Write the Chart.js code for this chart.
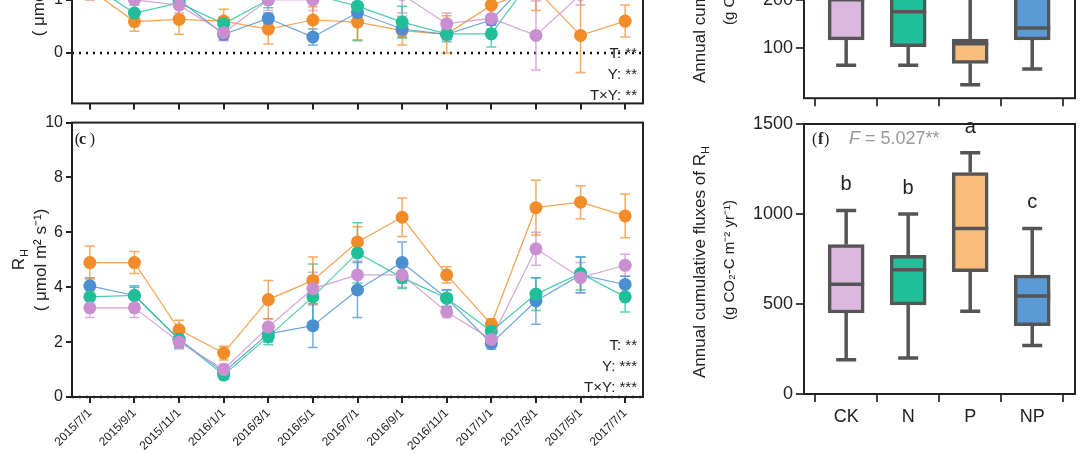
<!DOCTYPE html>
<html><head><meta charset="utf-8">
<script src="https://cdn.jsdelivr.net/npm/chart.js@4/dist/chart.umd.min.js"></script>
<style>
body{margin:0;width:1080px;height:459px;overflow:hidden;background:#fff;position:relative}
.c{position:absolute}
</style></head><body>
<canvas id="b" class="c"></canvas>
<canvas id="cc" class="c"></canvas>
<canvas id="e" class="c"></canvas>
<canvas id="f" class="c"></canvas>
<script>
// dates
const dates = ['2015/7/1','2015/9/1','2015/11/1','2016/1/1','2016/3/1','2016/5/1','2016/7/1','2016/9/1','2016/11/1','2017/1/1','2017/3/1','2017/5/1','2017/7/1'];
const seriesNames = ['CK','N','P','NP'];
const seriesColors = ['#c98fd0','#1fbf9a','#f28c28','#4a90d0'];
const boxFills = ['#dcb8e0','#1fbf9a','#f9bd7a','#5b9bd5'];

// panel (b), partly visible
const bCK = [1.2,1.0,0.9,0.38,1.0,1.0,1.2,1.1,0.55,0.65,0.33,1.1,1.3];
const bN  = [1.3,0.75,0.94,0.55,1.0,1.1,0.88,0.58,0.36,0.36,1.5,1.6,1.5];
const bP  = [1.2,0.59,0.63,0.6,0.45,0.62,0.58,0.42,0.35,0.9,1.2,0.33,0.6];
const bNP = [1.3,1.1,1.0,0.35,0.65,0.3,0.76,0.45,0.35,0.62,1.5,1.6,1.5];
const bErrCK = [0.2,0.2,0.15,0.15,0.2,0.2,0.25,0.35,0.2,0.2,0.65,0.2,0.2];
const bErrN  = [0.2,0.15,0.1,0.1,0.15,0.15,0.65,0.3,0.15,0.25,0.2,0.2,0.2];
const bErrP  = [0.2,0.18,0.28,0.22,0.28,0.25,0.33,0.27,0.35,0.3,0.4,0.7,0.3];
const bErrNP = [0.15,0.1,0.1,0.1,0.1,0.15,0.1,0.15,0.1,0.1,0.2,0.2,0.2];

// panel (c) R_H
const cCK = [3.25,3.25,2.0,1.0,2.55,3.95,4.45,4.45,3.1,2.1,5.4,4.35,4.8];
const cN  = [3.65,3.7,2.1,0.8,2.2,3.65,5.25,4.35,3.6,2.4,3.75,4.5,3.65];
const cP  = [4.9,4.9,2.45,1.6,3.55,4.25,5.65,6.55,4.45,2.65,6.9,7.1,6.6];
const cNP = [4.05,3.7,2.1,0.9,2.3,2.6,3.9,4.9,3.6,1.95,3.5,4.45,4.1];
const cErrCK = [0.35,0.35,0.25,0.2,0.3,0.6,0.5,0.45,0.2,0.25,0.6,0.55,0.4];
const cErrN  = [0.3,0.35,0.3,0.15,0.3,1.2,1.1,0.4,0.3,0.3,0.6,0.6,0.55];
const cErrP  = [0.6,0.4,0.35,0.25,0.7,0.85,0.55,0.7,0.3,0.2,1.0,0.6,0.8];
const cErrNP = [0.3,0.3,0.3,0.15,0.3,0.8,1.0,0.75,0.3,0.2,0.85,0.65,0.3];

// panel (e) annual cumulative (partly visible): [min, q1, median, q3, max]
const eBoxes = [[63,116,200,240,300],[63,102,175,230,290],[22,67,108,118,260],[55,116,141,230,300]];
// panel (f) annual cumulative R_H
const fBoxes = [[190,450,610,830,1020],[200,495,690,770,1000],[460,680,920,1230,1340],[270,380,545,660,920]];
const fLetters = ['b','b','a','c'];

const FONT = '"Liberation Sans", Arial, sans-serif';
const INK = '#222';

function place(id, left, top, w, h) {
  const cv = document.getElementById(id);
  cv.style.left = left + 'px'; cv.style.top = top + 'px';
  cv.style.width = w + 'px'; cv.style.height = h + 'px';
  cv.width = w; cv.height = h;
  return cv;
}

const frame = {
  id: 'frame',
  afterDraw(chart) {
    const a = chart.chartArea, ctx = chart.ctx;
    ctx.save(); ctx.strokeStyle = '#222'; ctx.lineWidth = 2;
    ctx.strokeRect(a.left, a.top, a.right - a.left, a.bottom - a.top);
    ctx.restore();
  }
};

function zeroLine(chart) {
  const ctx = chart.ctx, a = chart.chartArea, y = chart.scales.y.getPixelForValue(0);
  ctx.save(); ctx.strokeStyle = '#111'; ctx.lineWidth = 2.5; ctx.setLineDash([2, 5]);
  ctx.beginPath(); ctx.moveTo(a.left, y); ctx.lineTo(a.right, y); ctx.stroke(); ctx.restore();
}

const errBars = {
  id: 'errBars',
  beforeDatasetsDraw(chart) {
    const ctx = chart.ctx, xs = chart.scales.x, ys = chart.scales.y;
    zeroLine(chart);
    chart.data.datasets.forEach(ds => {
      ctx.save(); ctx.strokeStyle = ds.errColor; ctx.lineWidth = 1.5;
      ds.data.forEach((p, i) => {
        const e = ds.err[i], x = xs.getPixelForValue(p.x);
        const y1 = ys.getPixelForValue(p.y - e), y2 = ys.getPixelForValue(p.y + e);
        ctx.beginPath();
        ctx.moveTo(x, y1); ctx.lineTo(x, y2);
        ctx.moveTo(x - 5, y1); ctx.lineTo(x + 5, y1);
        ctx.moveTo(x - 5, y2); ctx.lineTo(x + 5, y2);
        ctx.stroke();
      });
      ctx.restore();
    });
  }
};

function lineSets(vals, errs) {
  const order = [0, 1, 3, 2];
  return order.map(k => ({
    label: seriesNames[k],
    data: vals[k].map((v, i) => ({ x: i, y: v })),
    err: errs[k],
    errColor: seriesColors[k] + 'bb',
    borderColor: seriesColors[k] + 'cc',
    borderWidth: 1.2,
    backgroundColor: seriesColors[k],
    pointBackgroundColor: seriesColors[k],
    pointBorderWidth: 0,
    pointRadius: 6.5,
    tension: 0
  }));
}

function textPlugin(fn) { return { id: 'txt' + Math.random(), afterDraw(chart) { const ctx = chart.ctx; ctx.save(); fn(ctx, chart); ctx.restore(); } }; }

function stats(ctx, a, lines, y0) {
  ctx.fillStyle = INK; ctx.font = '15px ' + FONT; ctx.textAlign = 'right';
  lines.forEach((t, i) => ctx.fillText(t, a.right - 6, y0 + i * 21));
}

function lineConfig(vals, errs, ymin, ymax, step, xH, showX, yW, padTop, extra) {
  return {
    type: 'line',
    data: { datasets: lineSets(vals, errs) },
    options: {
      responsive: false, animation: false,
      layout: { padding: { top: padTop, right: 17, left: 0, bottom: 0 } },
      plugins: { legend: { display: false }, tooltip: { enabled: false } },
      scales: {
        x: {
          type: 'linear', min: -0.4, max: 12.4,
          afterFit(s) { s.height = xH; },
          grid: { drawOnChartArea: false, tickLength: 6, color: '#222', lineWidth: 2 },
          border: { display: false },
          afterBuildTicks(s) { s.ticks = dates.map((d, i) => ({ value: i })); },
          ticks: { display: showX, autoSkip: false, maxRotation: 45, minRotation: 45, color: INK,
            font: { size: 12, family: FONT }, callback: v => dates[v] }
        },
        y: {
          min: ymin, max: ymax,
          afterFit(s) { s.width = yW; },
          afterBuildTicks(s) { s.ticks = s.ticks.filter(t => Math.abs(t.value / step - Math.round(t.value / step)) < 1e-6); },
          grid: { drawOnChartArea: false, tickLength: 6, color: '#222', lineWidth: 2 },
          border: { display: false },
          ticks: { stepSize: step, color: INK, font: { size: 16, family: FONT } }
        }
      }
    },
    plugins: [errBars, frame, textPlugin(extra)]
  };
}

// (b)
new Chart(place('b', 0, -110, 660, 226), lineConfig([bCK, bN, bP, bNP], [bErrCK, bErrN, bErrP, bErrNP],
  -0.95, 2.83, 1, 8, false, 72, 10, (ctx, ch) => {
    const a = ch.chartArea;
    stats(ctx, a, ['T: **', 'Y: **', 'T×Y: **'], a.bottom - 45);
    ctx.fillStyle = INK; ctx.font = '17px ' + FONT; ctx.textAlign = 'center';
    ctx.translate(44, 95); ctx.rotate(-Math.PI / 2);
    ctx.fillText('( μmol m² s⁻¹)', 0, 0);
  }));

// (c)
new Chart(place('cc', 0, 110, 660, 349), lineConfig([cCK, cN, cP, cNP], [cErrCK, cErrN, cErrP, cErrNP],
  0, 10, 2, 62, true, 72, 12, (ctx, ch) => {
    const a = ch.chartArea;
    stats(ctx, a, ['T: **', 'Y: ***', 'T×Y: ***'], a.bottom - 47);
    ctx.fillStyle = INK; ctx.font = '16px "Liberation Serif", serif';
    ctx.fillText('(', a.left + 8, a.top + 21);
    ctx.font = 'bold 16px "Liberation Serif", serif'; ctx.fillText('c', a.left + 14, a.top + 21);
    ctx.font = '16px "Liberation Serif", serif'; ctx.fillText(')', a.left + 23, a.top + 21);
    ctx.font = '17px ' + FONT; ctx.textAlign = 'center';
    ctx.save(); ctx.translate(24, 150); ctx.rotate(-Math.PI / 2);
    ctx.fillText('R', -4, 0); ctx.font = '11px ' + FONT; ctx.fillText('H', 7, 4); ctx.restore();
    ctx.font = '17px ' + FONT;
    ctx.save(); ctx.translate(46, 150); ctx.rotate(-Math.PI / 2);
    ctx.fillText('( μmol m² s⁻¹)', 0, 0); ctx.restore();
  }));

// box plots
const boxPlugin = {
  id: 'box',
  afterDatasetsDraw(chart) {
    const ctx = chart.ctx, xs = chart.scales.x, ys = chart.scales.y;
    const boxes = chart.data.datasets[0].boxes;
    ctx.save(); ctx.strokeStyle = '#555'; ctx.lineWidth = 3.5;
    boxes.forEach((b, i) => {
      const x = xs.getPixelForValue(i), hw = 18, cw = 10;
      const p = v => ys.getPixelForValue(v);
      ctx.beginPath();
      ctx.moveTo(x, p(b[0])); ctx.lineTo(x, p(b[1]));
      ctx.moveTo(x, p(b[3])); ctx.lineTo(x, p(b[4]));
      ctx.moveTo(x - cw, p(b[0])); ctx.lineTo(x + cw, p(b[0]));
      ctx.moveTo(x - cw, p(b[4])); ctx.lineTo(x + cw, p(b[4]));
      ctx.moveTo(x - hw, p(b[2])); ctx.lineTo(x + hw, p(b[2]));
      ctx.stroke();
    });
    ctx.restore();
  }
};

function boxConfig(boxes, ymin, ymax, step, xH, showX, padTop, extra) {
  return {
    type: 'bar',
    data: {
      labels: seriesNames,
      datasets: [{
        boxes: boxes,
        data: boxes.map((b, i) => ({ x: i, y: [b[1], b[3]] })),
        backgroundColor: boxFills, borderColor: '#555', borderWidth: 3.5, borderSkipped: false,
        barThickness: 36
      }]
    },
    options: {
      responsive: false, animation: false,
      layout: { padding: { top: padTop, right: 5 } },
      plugins: { legend: { display: false }, tooltip: { enabled: false } },
      scales: {
        x: {
          type: 'linear', min: -0.68, max: 3.69, offset: false,
          afterFit(s) { s.height = xH; },
          afterBuildTicks(s) { s.ticks = seriesNames.map((n, i) => ({ value: i })); },
          grid: { drawOnChartArea: false, tickLength: 8, color: '#444', lineWidth: 2 },
          border: { display: false },
          ticks: { display: showX, color: INK, font: { size: 18, family: FONT }, callback: v => seriesNames[v], padding: 4 }
        },
        y: {
          min: ymin, max: ymax,
          afterFit(s) { s.width = 124; },
          afterBuildTicks(s) { s.ticks = s.ticks.filter(t => t.value >= 0 && t.value % step === 0); },
          grid: { drawOnChartArea: false, tickLength: 8, color: '#444', lineWidth: 2 },
          border: { display: false },
          ticks: { stepSize: step, color: INK, font: { size: 18, family: FONT }, callback: v => String(v) }
        }
      }
    },
    plugins: [boxPlugin, frame, textPlugin(extra)]
  };
}

function boxTitle(ctx, cy, l1, l2) {
  ctx.fillStyle = INK; ctx.font = '17px ' + FONT; ctx.textAlign = 'center';
  ctx.save(); ctx.translate(25, cy); ctx.rotate(-Math.PI / 2); ctx.fillText(l1, -6, 0);
  const w = ctx.measureText(l1).width;
  ctx.font = '11px ' + FONT; ctx.textAlign = 'left'; ctx.fillText('H', w / 2 - 6, 4); ctx.restore();
  ctx.font = '15px ' + FONT; ctx.textAlign = 'center';
  ctx.save(); ctx.translate(54, cy); ctx.rotate(-Math.PI / 2); ctx.fillText(l2, 0, 0); ctx.restore();
}

// (e)
new Chart(place('e', 680, -100, 400, 212), boxConfig(eBoxes, -6, 380, 100, 5, false, 10, (ctx, ch) => {
  boxTitle(ctx, 65, 'Annual cumulative fluxes of R', '(g CO₂-C m⁻² yr⁻¹)');
}));

// (f)
new Chart(place('f', 680, 110, 400, 349), boxConfig(fBoxes, 0, 1500, 500, 65, true, 14, (ctx, ch) => {
  const a = ch.chartArea, xs = ch.scales.x, ys = ch.scales.y;
  boxTitle(ctx, 150, 'Annual cumulative fluxes of R', '(g CO₂-C m⁻² yr⁻¹)');
  ctx.fillStyle = INK; ctx.font = '16px "Liberation Serif", serif'; ctx.textAlign = 'left';
  ctx.fillText('(', a.left + 8, a.top + 20);
  ctx.font = 'bold 16px "Liberation Serif", serif'; ctx.fillText('f', a.left + 14, a.top + 20);
  ctx.font = '16px "Liberation Serif", serif'; ctx.fillText(')', a.left + 20, a.top + 20);
  ctx.fillStyle = '#999'; ctx.font = 'italic 18px ' + FONT; ctx.fillText('F', a.left + 45, a.top + 20);
  ctx.font = '18px ' + FONT; ctx.fillText(' = 5.027**', a.left + 56, a.top + 20);
  ctx.fillStyle = INK; ctx.font = '20px ' + FONT; ctx.textAlign = 'center';
  fBoxes.forEach((b, i) => ctx.fillText(fLetters[i], xs.getPixelForValue(i), ys.getPixelForValue(b[4]) - 20));
}));
</script>
</body></html>
